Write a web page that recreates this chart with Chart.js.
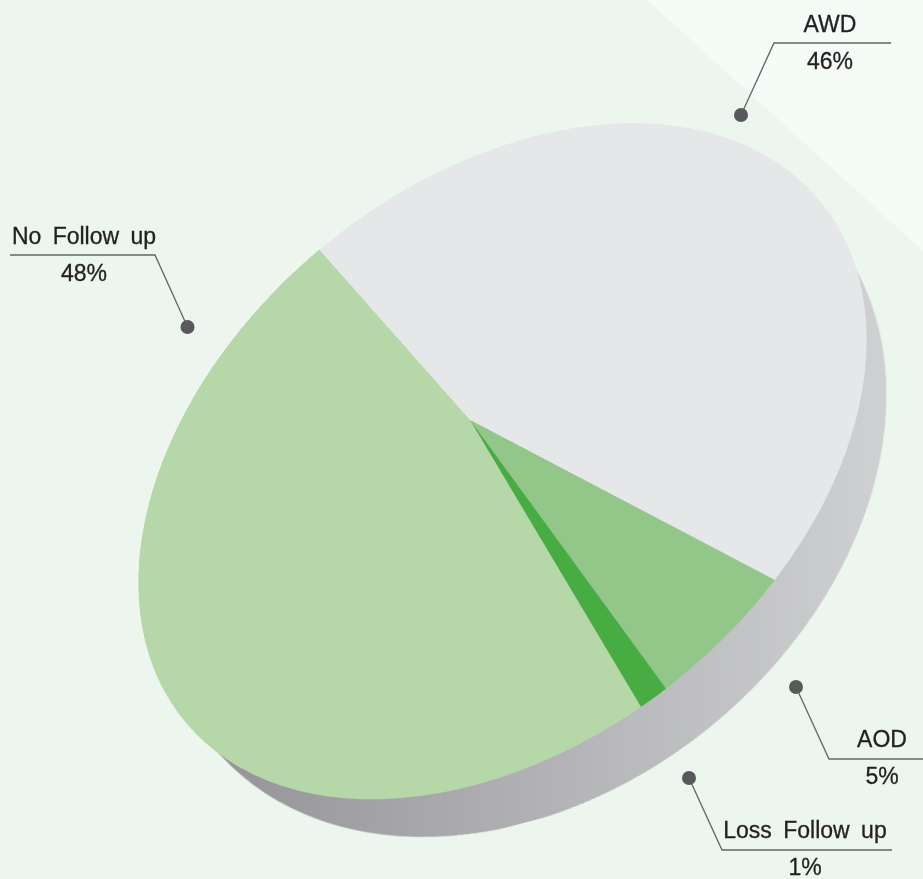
<!DOCTYPE html>
<html>
<head>
<meta charset="utf-8">
<title>Follow up</title>
<script src="https://cdn.jsdelivr.net/npm/chart.js@4"></script>
<style>
  html, body { margin: 0; padding: 0; background: #edf6ee; }
  #stage { position: relative; width: 923px; height: 879px; overflow: hidden; background: #edf6ee; }
  #corner { position: absolute; left: 0; top: 0; width: 923px; height: 879px; background: #f5fbf6;
            clip-path: polygon(647px 0, 923px 0, 923px 251px); }
  canvas { position: absolute; left: 0; top: 0; transform-origin: 0 0; }
  svg { position: absolute; left: 0; top: 0; }
  text { font-family: "Liberation Sans", sans-serif; font-size: 23px; fill: #231f20; stroke: #231f20; stroke-width: 0.3px;
         text-anchor: middle; word-spacing: 5px; }
</style>
</head>
<body>
<div id="stage">
  <div id="corner"></div>
  <canvas id="rimCanvas" width="1400" height="1400"></canvas>
  <canvas id="pieCanvas" width="1400" height="1400"></canvas>
  <svg id="labels" width="923" height="879"></svg>
</div>
<script>
// data, clockwise from the AWD / No Follow up edge
const categories = ['AWD', 'AOD', 'Loss Follow up', 'No Follow up'];
const percents = [46, 5, 1, 48];
const sliceColors = ['#e6e7e9', '#93c689', '#47ad42', '#b6d7a8'];

// leader lines: dot, elbow, end of the rule, label centre x, label baseline y, value baseline y
const leaders = [
  [741, 115, 774, 43, 891, 830, 32, 69],
  [796, 687, 829, 759, 923, 882, 747, 784],
  [689, 778, 722, 850, 892, 805, 838, 875],
  [187.5, 327, 155, 255, 10, 84, 244, 281]
];

const SIZE = 1400;
const RADIUS = SIZE / 2;

// outline of the top face and of the side in the picture, and where the slice tips sit
const face = { cx: 502.5, cy: 461.3, rx: 364.2, ry: 338.1, sxy: -44204 };
const rim = { cx: 522.5, cy: 490, rx: 364, ry: 347, sxy: -34582 };
const apex = [470, 420];
const edgePoints = [[320, 251], [776, 579], [666, 688], [639, 708]];

function mul(a, b) {
    return a.map(row => [0, 1, 2].map(j => row[0] * b[0][j] + row[1] * b[1][j] + row[2] * b[2][j]));
}

function ellipseMatrix(el) {
    const l00 = el.rx;
    const l10 = el.sxy / l00;
    const l11 = Math.sqrt(el.ry * el.ry - l10 * l10);
    return [[l00, 0, el.cx], [l10, l11, el.cy], [0, 0, 1]];
}

function toDisc(el, p) {
    const m = ellipseMatrix(el);
    const u = (p[0] - el.cx) / m[0][0];
    return [u, (p[1] - el.cy - m[1][0] * u) / m[1][1]];
}

// projective map of the unit disc onto itself that sends 0 to e
function boost(e) {
    const n2 = e[0] * e[0] + e[1] * e[1];
    const g = 1 / Math.sqrt(1 - n2);
    const k = n2 > 0 ? (g - 1) / n2 : 0;
    return [
        [1 + k * e[0] * e[0], k * e[0] * e[1], g * e[0]],
        [k * e[0] * e[1], 1 + k * e[1] * e[1], g * e[1]],
        [g * e[0], g * e[1], g]
    ];
}

function cssMatrix(h) {
    const v = [h[0][0], h[1][0], 0, h[2][0], h[0][1], h[1][1], 0, h[2][1], 0, 0, 1, 0, h[0][2], h[1][2], 0, h[2][2]];
    return 'matrix3d(' + v.join(',') + ')';
}

const canvasToDisc = [[1 / RADIUS, 0, -1], [0, 1 / RADIUS, -1], [0, 0, 1]];

// the rotation that puts the slice edges closest to where the picture has them
function faceRotation(e) {
    const back = boost([-e[0], -e[1]]);
    const total = percents.reduce((a, b) => a + b, 0);
    const sweeps = [0, percents[0], percents[0] + percents[1], percents[0] + percents[1] + percents[2]];
    let sx = 0, sy = 0;
    edgePoints.forEach((p, i) => {
        const d = toDisc(face, p);
        const x = back[0][0] * d[0] + back[0][1] * d[1] + back[0][2];
        const y = back[1][0] * d[0] + back[1][1] * d[1] + back[1][2];
        const expected = -Math.PI / 2 + sweeps[i] / total * 2 * Math.PI;
        const diff = Math.atan2(y, x) - expected;
        sx += Math.cos(diff);
        sy += Math.sin(diff);
    });
    return Math.atan2(sy, sx);
}

const e = toDisc(face, apex);
const r = faceRotation(e);
const rot = [[Math.cos(r), -Math.sin(r), 0], [Math.sin(r), Math.cos(r), 0], [0, 0, 1]];
const faceH = mul(mul(mul(ellipseMatrix(face), boost(e)), rot), canvasToDisc);
const rimH = mul(ellipseMatrix(rim), canvasToDisc);

const pieCanvas = document.getElementById('pieCanvas');
const rimCanvas = document.getElementById('rimCanvas');
pieCanvas.style.transform = cssMatrix(faceH);
rimCanvas.style.transform = cssMatrix(rimH);

const baseOptions = {
    responsive: false,
    animation: false,
    devicePixelRatio: 1,
    layout: { padding: 0 },
    plugins: { legend: { display: false }, tooltip: { enabled: false } }
};

new Chart(pieCanvas.getContext('2d'), {
    type: 'pie',
    data: {
        labels: categories,
        datasets: [{ data: percents, backgroundColor: sliceColors, borderWidth: 0 }]
    },
    options: baseOptions
});

// the side of the disc, shaded left to right in picture space
function rimGradient(ctx) {
    const m = ellipseMatrix(rim);
    const a = m[0][0], b = m[0][1];
    const len = a * a + b * b;
    const at = x => {
        const t = (x - rim.cx) / len;
        return [RADIUS + RADIUS * a * t, RADIUS + RADIUS * b * t];
    };
    const p0 = at(225), p1 = at(886);
    const g = ctx.createLinearGradient(p0[0], p0[1], p1[0], p1[1]);
    g.addColorStop(0, '#96969a');
    g.addColorStop(1, '#d0d1d3');
    return g;
}

const rimCtx = rimCanvas.getContext('2d');
new Chart(rimCtx, {
    type: 'pie',
    data: {
        labels: ['side'],
        datasets: [{ data: [100], backgroundColor: [rimGradient(rimCtx)], borderWidth: 0 }]
    },
    options: baseOptions
});

// labels and leader lines
const svg = document.getElementById('labels');
function addSvg(tag, attrs, text) {
    const el = document.createElementNS('http://www.w3.org/2000/svg', tag);
    Object.keys(attrs).forEach(k => el.setAttribute(k, attrs[k]));
    if (text) el.textContent = text;
    svg.appendChild(el);
}
leaders.forEach((l, i) => {
    addSvg('polyline', { points: `${l[0]},${l[1]} ${l[2]},${l[3]} ${l[4]},${l[3]}`, fill: 'none', stroke: '#636466', 'stroke-width': 1.3 });
    addSvg('circle', { cx: l[0], cy: l[1], r: 7, fill: '#58595b' });
    addSvg('text', { x: l[5], y: l[6] }, categories[i]);
    addSvg('text', { x: l[5], y: l[7] }, percents[i] + '%');
});
</script>
</body>
</html>
